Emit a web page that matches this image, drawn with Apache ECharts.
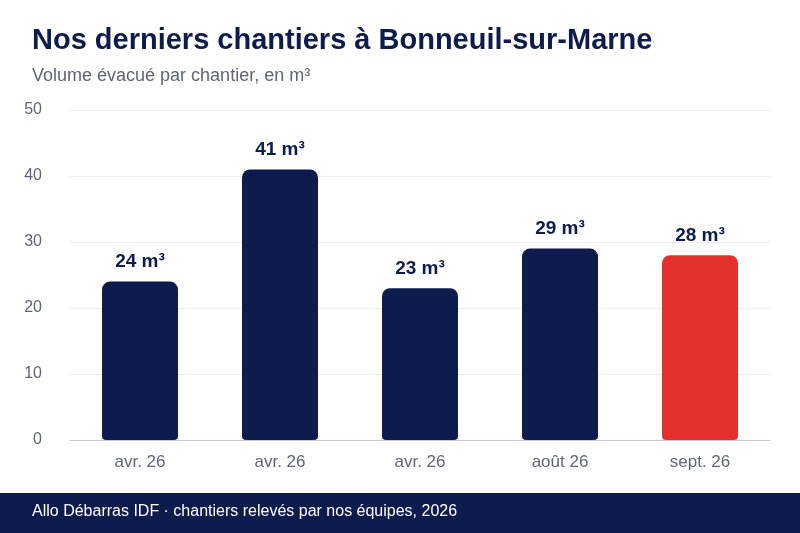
<!DOCTYPE html>
<html><head><meta charset="utf-8">
<script src="https://cdn.jsdelivr.net/npm/echarts@6/dist/echarts.min.js"></script>
<style>html,body{margin:0;padding:0;background:#fff}#c{width:800px;height:533px}</style>
</head><body><div id="c"></div>
<script>
const categories = ['avr. 26','avr. 26','avr. 26','août 26','sept. 26'];
const values = [24,41,23,29,28];
const highlight = [false,false,false,false,true];
const NAVY='#0e1b4d', RED='#e5312e';
const chart = echarts.init(document.getElementById('c'));
chart.setOption({
  animation:false,
  textStyle:{fontFamily:'Liberation Sans, Arial, sans-serif'},
  graphic:[
    {type:'rect',shape:{x:0,y:493,width:800,height:40},style:{fill:NAVY}},
    {type:'text',left:32,top:504,style:{text:'Allo Débarras IDF · chantiers relevés par nos équipes, 2026',fill:'#fff',font:'16px Liberation Sans, Arial, sans-serif'}},
    {type:'text',left:32,top:26,style:{text:'Nos derniers chantiers à Bonneuil-sur-Marne',fill:NAVY,font:'bold 29px Liberation Sans, Arial, sans-serif'}},
    {type:'text',left:32,top:67,style:{text:'Volume évacué par chantier, en m³',fill:'#5f6577',font:'18px Liberation Sans, Arial, sans-serif'}}
  ],
  grid:{left:70,right:30,top:110,bottom:93},
  xAxis:{type:'category',data:categories,axisTick:{show:false},
    axisLine:{lineStyle:{color:'#c8cad6'}},
    axisLabel:{color:'#5f6577',fontSize:17,margin:14}},
  yAxis:{type:'value',min:0,max:50,interval:10,
    axisLabel:{color:'#5f6577',fontSize:16,margin:28},
    splitLine:{lineStyle:{color:'#eeeeee'}}},
  series:[{type:'bar',barWidth:76,
    data:values.map((v,i)=>({value:v,itemStyle:{color:highlight[i]?RED:NAVY}})),
    itemStyle:{borderRadius:[8,8,4,4]},
    label:{show:true,position:'top',distance:10,formatter:p=>p.value+' m³',
      color:NAVY,fontWeight:'bold',fontSize:19}}]
});
</script></body></html>
